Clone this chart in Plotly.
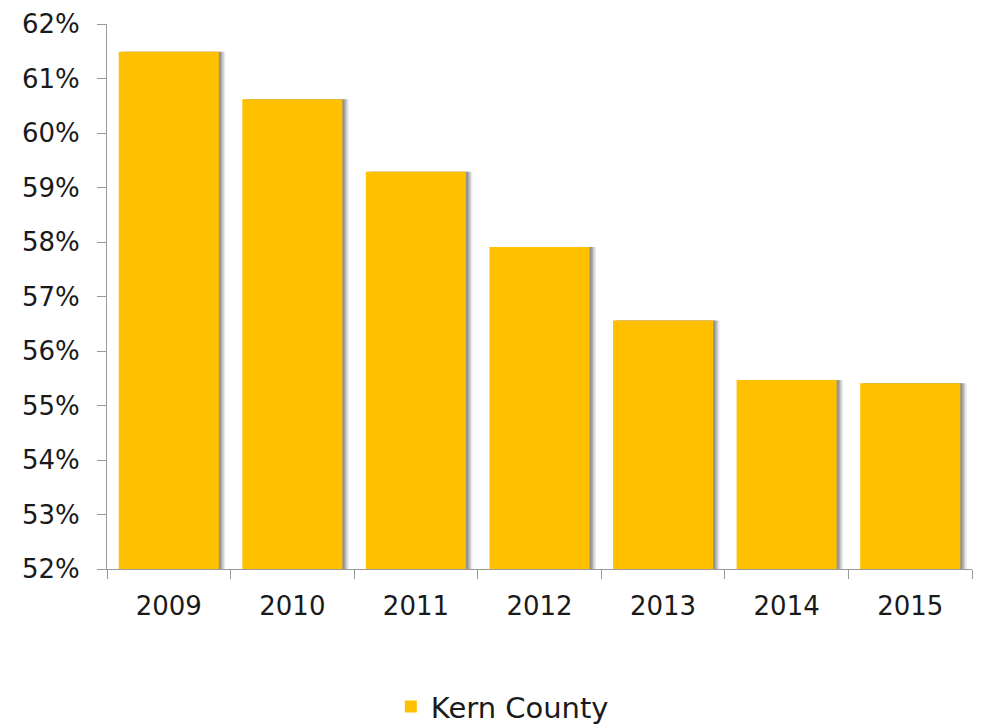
import plotly.graph_objects as go

# Share of population, Kern County, by year
years = ["2009", "2010", "2011", "2012", "2013", "2014", "2015"]
share_pct = [61.49, 60.62, 59.29, 57.91, 56.56, 55.47, 55.41]
series_name = "Kern County"

BAR_COLOR = "#FFC000"
FONT = "'DejaVu Sans', sans-serif"
BAR_WIDTH = 0.81

fig = go.Figure()

# soft drop shadow on the right edge of each bar, built from layered translucent bars
for shift, alpha in [(0.052, 0.12), (0.04, 0.2), (0.028, 0.28), (0.016, 0.32)]:
    fig.add_trace(go.Bar(
        x=years, y=share_pct, base=0,
        width=BAR_WIDTH, offset=-BAR_WIDTH / 2 + shift,
        marker=dict(color=f"rgba(90,90,90,{alpha})", line=dict(width=0)),
        showlegend=False, hoverinfo="skip",
    ))

fig.add_trace(go.Bar(
    x=years, y=share_pct, base=0,
    width=BAR_WIDTH, offset=-BAR_WIDTH / 2,
    name=series_name,
    marker=dict(color=BAR_COLOR, line=dict(width=0)),
))

fig.update_layout(
    width=981, height=727,
    margin=dict(l=107, r=9, t=24, b=158, autoexpand=False),
    barmode="overlay",
    plot_bgcolor="white", paper_bgcolor="white",
    font=dict(family=FONT, size=26, color="#1a1a1a"),
    showlegend=True,
    legend=dict(
        orientation="h", x=0.457, xanchor="center", y=-0.206, yanchor="top",
        font=dict(size=29),
    ),
)

fig.update_xaxes(
    type="category",
    showline=True, linecolor="#9a9a9a", linewidth=1,
    ticks="outside", tickson="boundaries", ticklen=9, tickcolor="#9a9a9a",
    showgrid=False, tickfont=dict(size=26), ticklabelstandoff=14,
)
fig.update_yaxes(
    range=[52, 62], dtick=1, ticksuffix="%",
    showline=True, linecolor="#9a9a9a", linewidth=1,
    ticks="outside", ticklen=9, tickcolor="#9a9a9a",
    showgrid=False, zeroline=False, tickfont=dict(size=26), ticklabelstandoff=12,
)

fig.write_html("out.html")
